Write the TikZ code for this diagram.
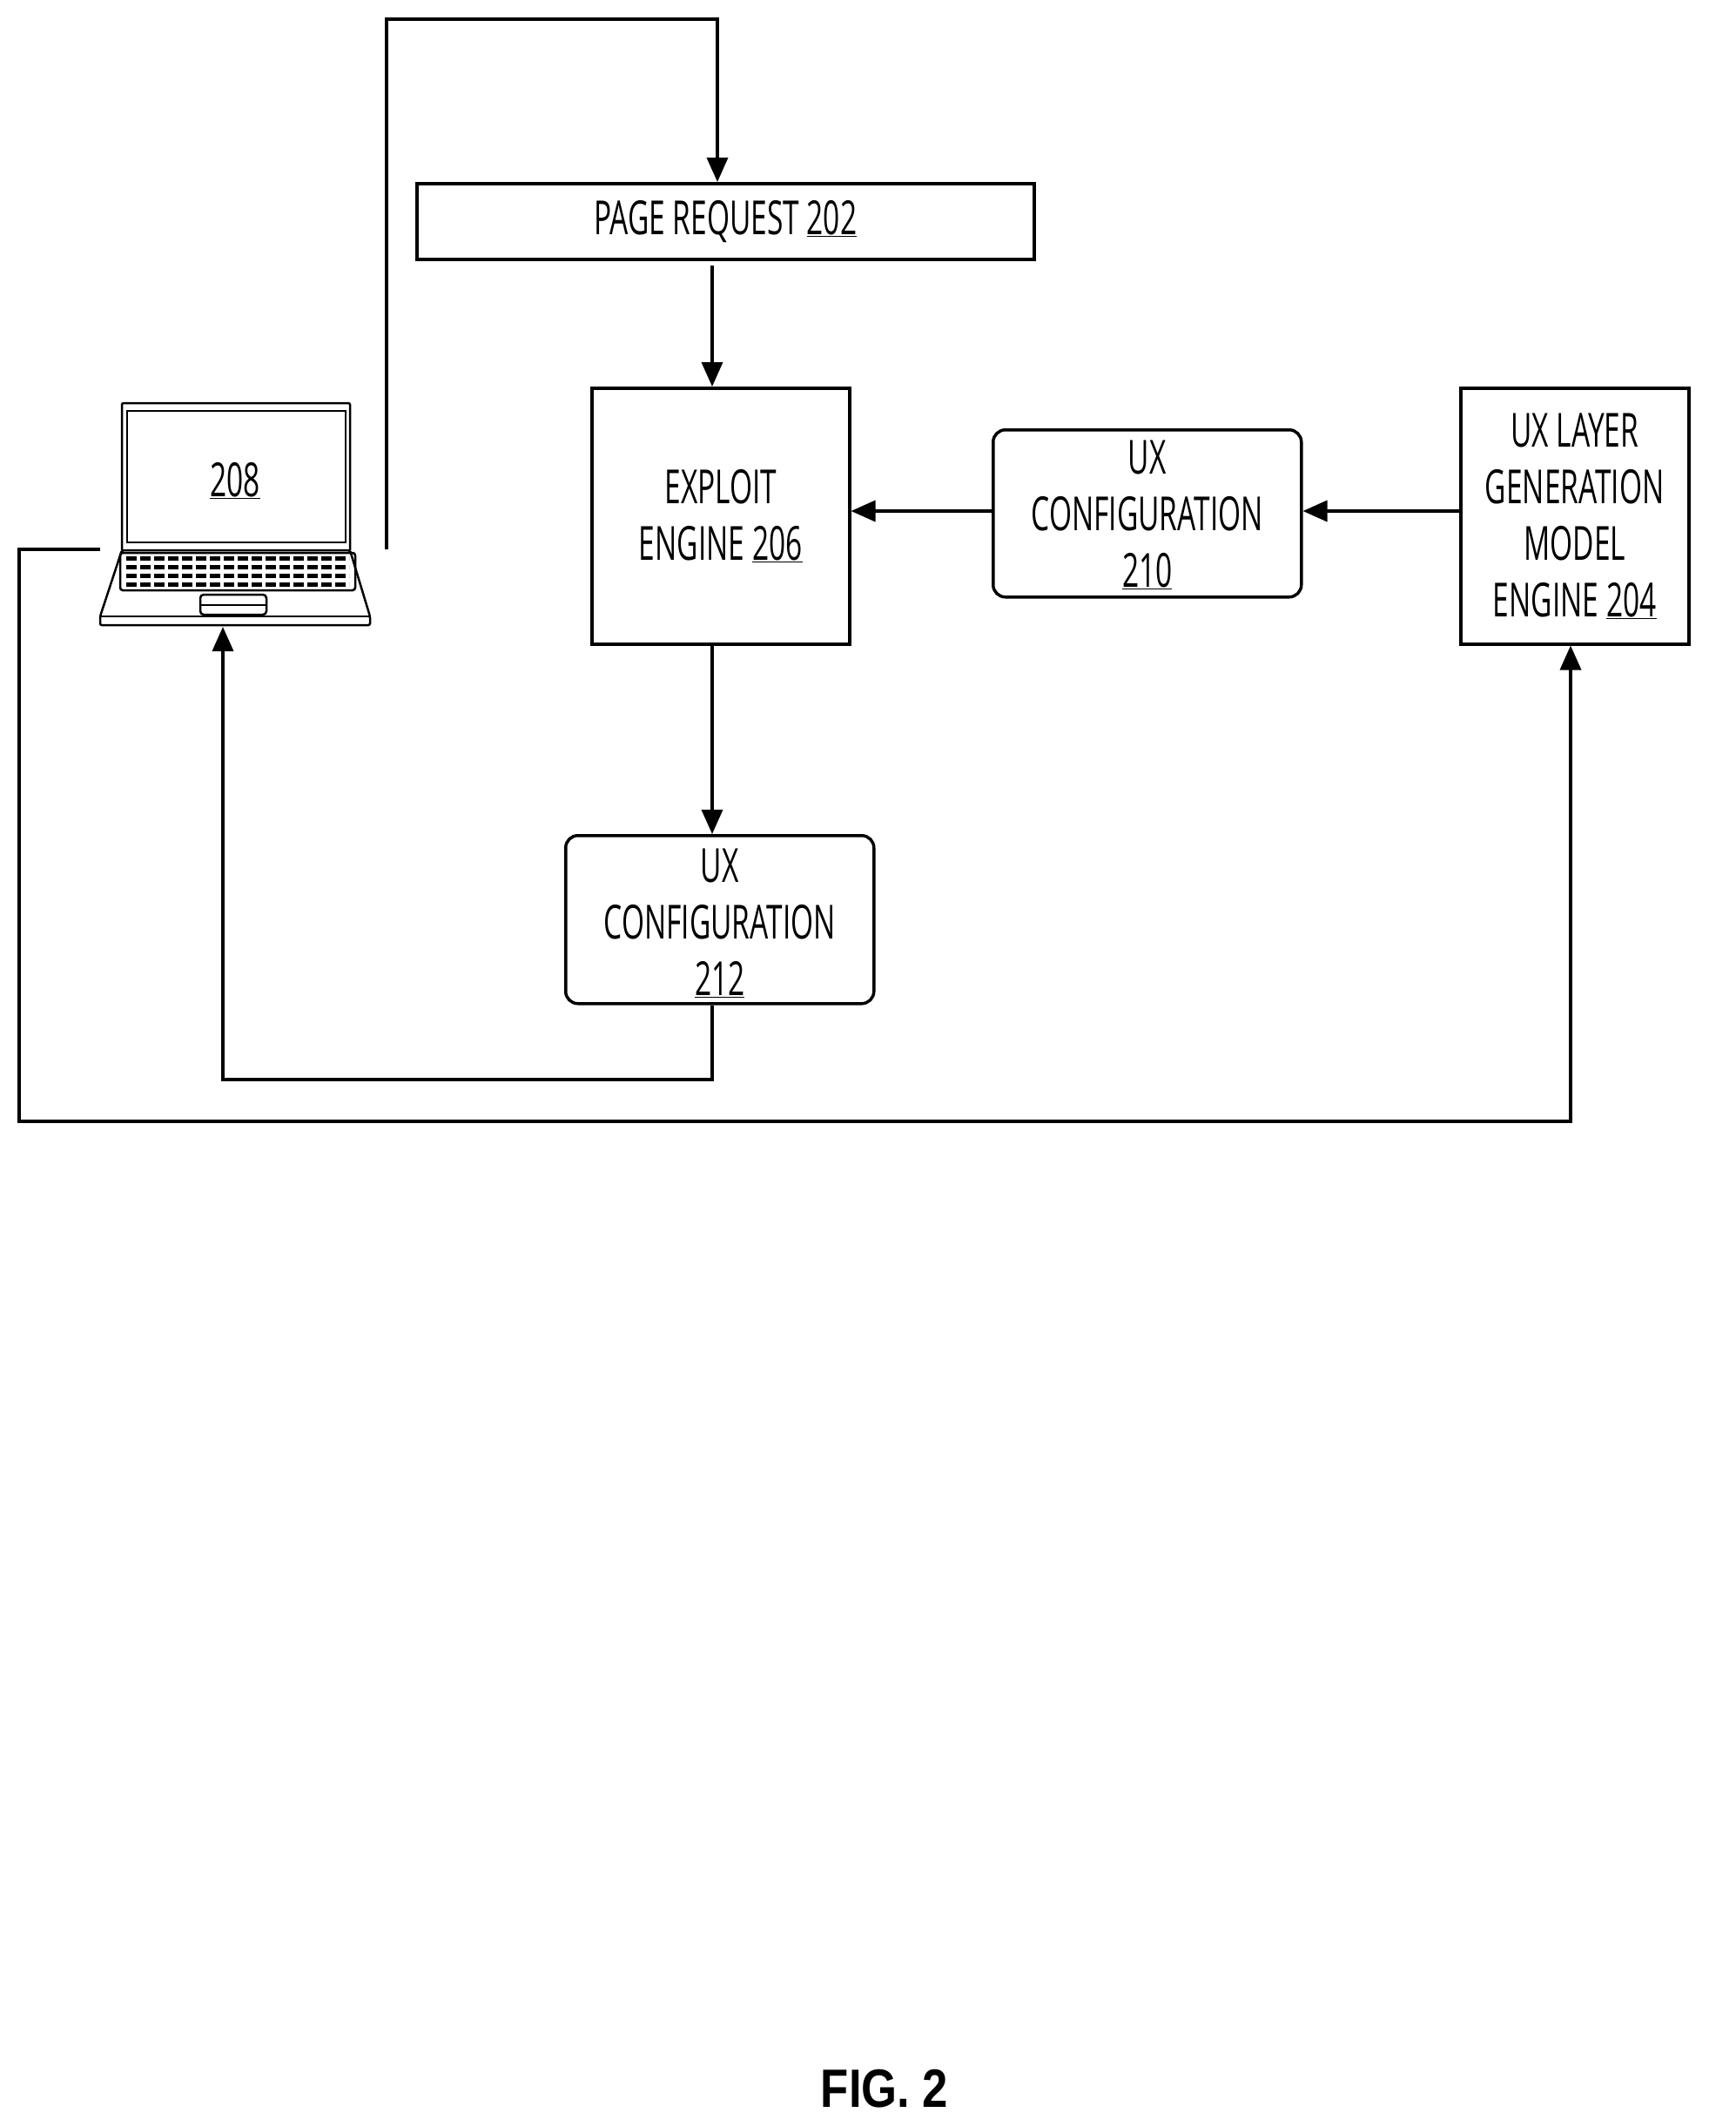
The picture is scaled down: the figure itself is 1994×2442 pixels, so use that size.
\documentclass[tikz,border=0pt]{standalone}
\usepackage{fontspec}
\setmainfont{Open Sans}[FakeStretch=0.62]
\newfontfamily\figfont{Liberation Sans}[FakeStretch=0.85]
\usetikzlibrary{arrows.meta}
\begin{document}
\begin{tikzpicture}[x=1pt,y=-1pt,line width=3.5pt,
  arr/.style={-{Triangle[width=24pt,length=28pt]}},
  txt/.style={align=center,font=\fontsize{54}{65}\selectfont,inner sep=0pt},
  box/.style={draw,line width=3.5pt},
  rbox/.style={draw,line width=3.5pt,rounded corners=14pt}]
\useasboundingbox (0,0) rectangle (1994,2442);
% boxes
\node[box,minimum width=709pt,minimum height=87pt,anchor=north west,inner sep=0pt] (pr) at (477,209) {};
\node[txt] at (pr.center) {PAGE REQUEST \underline{202}};
\node[box,minimum width=296pt,minimum height=294pt,anchor=north west,inner sep=0pt] (ex) at (678,444) {};
\node[txt] at (ex.center) {EXPLOIT\\ENGINE \underline{206}};
\node[rbox,minimum width=354pt,minimum height=192pt,anchor=north west,inner sep=0pt] (c210) at (1139,492) {};
\node[txt] at ([yshift=-2pt]c210.center) {UX\\CONFIGURATION\\\underline{210}};
\node[box,minimum width=262pt,minimum height=294pt,anchor=north west,inner sep=0pt] (lay) at (1676,444) {};
\node[txt] at (lay.center) {UX LAYER\\GENERATION\\MODEL\\ENGINE \underline{204}};
\node[rbox,minimum width=354pt,minimum height=193pt,anchor=north west,inner sep=0pt] (c212) at (648,958) {};
\node[txt] at ([yshift=-4pt]c212.center) {UX\\CONFIGURATION\\\underline{212}};
% laptop
\begin{scope}[line width=2.5pt]
\draw[rounded corners=2pt] (140,632) -- (140,463) -- (402,463) -- (402,632);
\draw (146,623) rectangle (397,472);
\draw[rounded corners=2pt] (140,632) -- (402,632) -- (425,708) -- (425,718) -- (115,718) -- (115,708) -- cycle;
\draw (115,708) -- (425,708);
\draw[rounded corners=3pt] (138,635) rectangle (408,678);
\foreach \yy in {641,651,661,671}{\draw[line width=5pt,dash pattern=on 12pt off 4pt] (145,\yy) -- (401,\yy);}
\draw[rounded corners=4pt] (230,683) rectangle (306,706);
\draw (230,695) -- (306,695);
\end{scope}
\node[txt] (lap) at (270,552) {\underline{208}};
\coordinate (lapR) at (444,631);
\coordinate (lapL) at (115,631);
\coordinate (lapB) at (256,720);
\coordinate (t1) at (444,22);
\coordinate (t2) at (824,22);
\coordinate (prs) at (818,305);
\coordinate (b1) at (818,1240);
\coordinate (b2) at (256,1240);
\coordinate (o1) at (22,631);
\coordinate (o2) at (22,1288);
\coordinate (o3) at (1804,1288);
\coordinate (h) at (0,587);
% connectors
\draw[arr] (lapR) -- (t1) -- (t2) -- (t2 |- pr.north);
\draw[arr] (prs) -- (prs |- ex.north);
\draw[arr] (lay.west |- h) -- (c210.east |- h);
\draw[arr] (c210.west |- h) -- (ex.east |- h);
\draw[arr] (prs |- ex.south) -- (prs |- c212.north);
\draw[arr] (prs |- c212.south) -- (b1) -- (b2) -- (lapB);
\draw[arr] (lapL) -- (o1) -- (o2) -- (o3) -- (o3 |- lay.south);
\node[font=\figfont\fontsize{62}{70}\bfseries\selectfont] (fig) at (1016,2399) {FIG. 2};
\end{tikzpicture}
\end{document}
